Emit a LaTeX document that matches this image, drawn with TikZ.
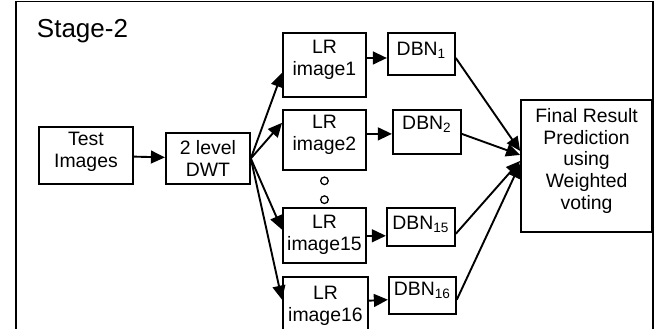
\documentclass[tikz,border=0pt]{standalone}
\usepackage{fontspec}
\setmainfont{Liberation Sans}
\usetikzlibrary{arrows.meta, positioning}

\begin{document}
\begin{tikzpicture}[
		x=0.25mm,
		y=-0.25mm,
		line width=1.35pt,
		font=\fontsize{13.8}{15.6}\selectfont,
		main/.style= {
				draw,
				rectangle,
				align=center,
				inner sep=0pt
			},
		lrbox/.style= {
				main,
				minimum width=20.75mm
			},
		dbn/.style= {
				main,
				text height=3.5mm
			},
		dot/.style= {
				draw,
				circle,
				line width=0.9pt,
				inner sep=0pt,
				minimum size=1.9mm
			},
		myarrow/.style= {
				-{Triangle[length=3.5mm, width=3.2mm]}
			}
	]

	\useasboundingbox (0,0) rectangle (658,329);
	\draw (16,1.5) rectangle (653,345);

	\node[anchor=base west, inner sep=0pt, font=\fontsize{18.5}{22}\selectfont] (stage) at (36,38) {Stage-2};

	\node[main, minimum width=23.5mm, minimum height=14.25mm, text depth=3mm, anchor=north west] (test) at (38,126) {Test\\Images};
	\node[main, minimum width=21mm, minimum height=12.75mm] (dwt) [right = 7.75mm of test.south east, anchor=south west] {2 level\\DWT};

	\node[lrbox, minimum height=16mm, text depth=3.75mm, anchor=north west] (lr1) at (282,32) {LR\\image1};
	\node[lrbox, minimum height=15mm, text depth=3.5mm] (lr2) [below = 2.75mm of lr1.south west, anchor=north west] {LR\\image2};
	\node[lrbox, minimum height=13.75mm] (lr15) [below = 9mm of lr2.south west, anchor=north west] {LR\\image15};
	\node[lrbox, minimum width=21.25mm, minimum height=14.5mm] (lr16) [below = 3mm of lr15.south west, anchor=north west] {LR\\image16};

	\node[dot] (dot1) [below = 1.4mm of lr2] {};
	\node[dot] (dot2) [below = 2.5mm of dot1] {};

	\node[dbn, minimum width=16.75mm, minimum height=10.5mm, text depth=2.5mm] (dbn1) [right = 5mm of lr1.north east, anchor=north west] {DBN\textsubscript{1}};
	\node[dbn, minimum width=17mm, minimum height=11mm, text depth=4.5mm] (dbn2) [right = 6.25mm of lr2.north east, anchor=north west] {DBN\textsubscript{2}};
	\node[dbn, minimum width=17mm, minimum height=9.5mm, text depth=2mm] (dbn15) [right = 4.75mm of lr15.north east, anchor=north west] {DBN\textsubscript{15}};
	\node[dbn, minimum width=16.75mm, minimum height=9.25mm, text depth=3.25mm] (dbn16) [right = 4.75mm of lr16.north east, anchor=north west] {DBN\textsubscript{16}};

	\node[main, minimum width=32.75mm, minimum height=33mm, text depth=3.5mm, anchor=north east] (final) at (653,99) {Final Result\\Prediction\\using\\Weighted\\voting};

	\draw[myarrow] (test) -- (dwt);
	\draw[myarrow] (dwt.east) -- ([yshift=-2mm]lr1.west);
	\draw[myarrow] (dwt.east) -- ([yshift=4.25mm]lr2.west);
	\draw[myarrow] (dwt.east) -- ([yshift=1.4mm]lr15.west);
	\draw[myarrow] (dwt.east) -- ([yshift=1.5mm]lr16.west);
	\draw[myarrow] ([yshift=-6.5mm]lr1.north east) -- ([yshift=-6.5mm]dbn1.north west);
	\draw[myarrow] ([yshift=-6.25mm]lr2.north east) -- ([yshift=-6.25mm]dbn2.north west);
	\draw[myarrow] ([yshift=-7.25mm]lr15.north east) -- ([yshift=-7.25mm]dbn15.north west);
	\draw[myarrow] ([yshift=-6.25mm]lr16.north east) -- ([yshift=-6mm]dbn16.north west);
	\draw[myarrow] ([yshift=-6.5mm]dbn1.north east) -- ([yshift=3.75mm]final.west);
	\draw[myarrow] ([yshift=-6.25mm]dbn2.north east) -- ([yshift=2.75mm]final.west);
	\draw[myarrow] ([yshift=-6.75mm]dbn15.north east) -- ([yshift=1.25mm]final.west);
	\draw[myarrow] ([yshift=-6mm]dbn16.north east) -- ([yshift=0.5mm]final.west);
\end{tikzpicture}
\end{document}
